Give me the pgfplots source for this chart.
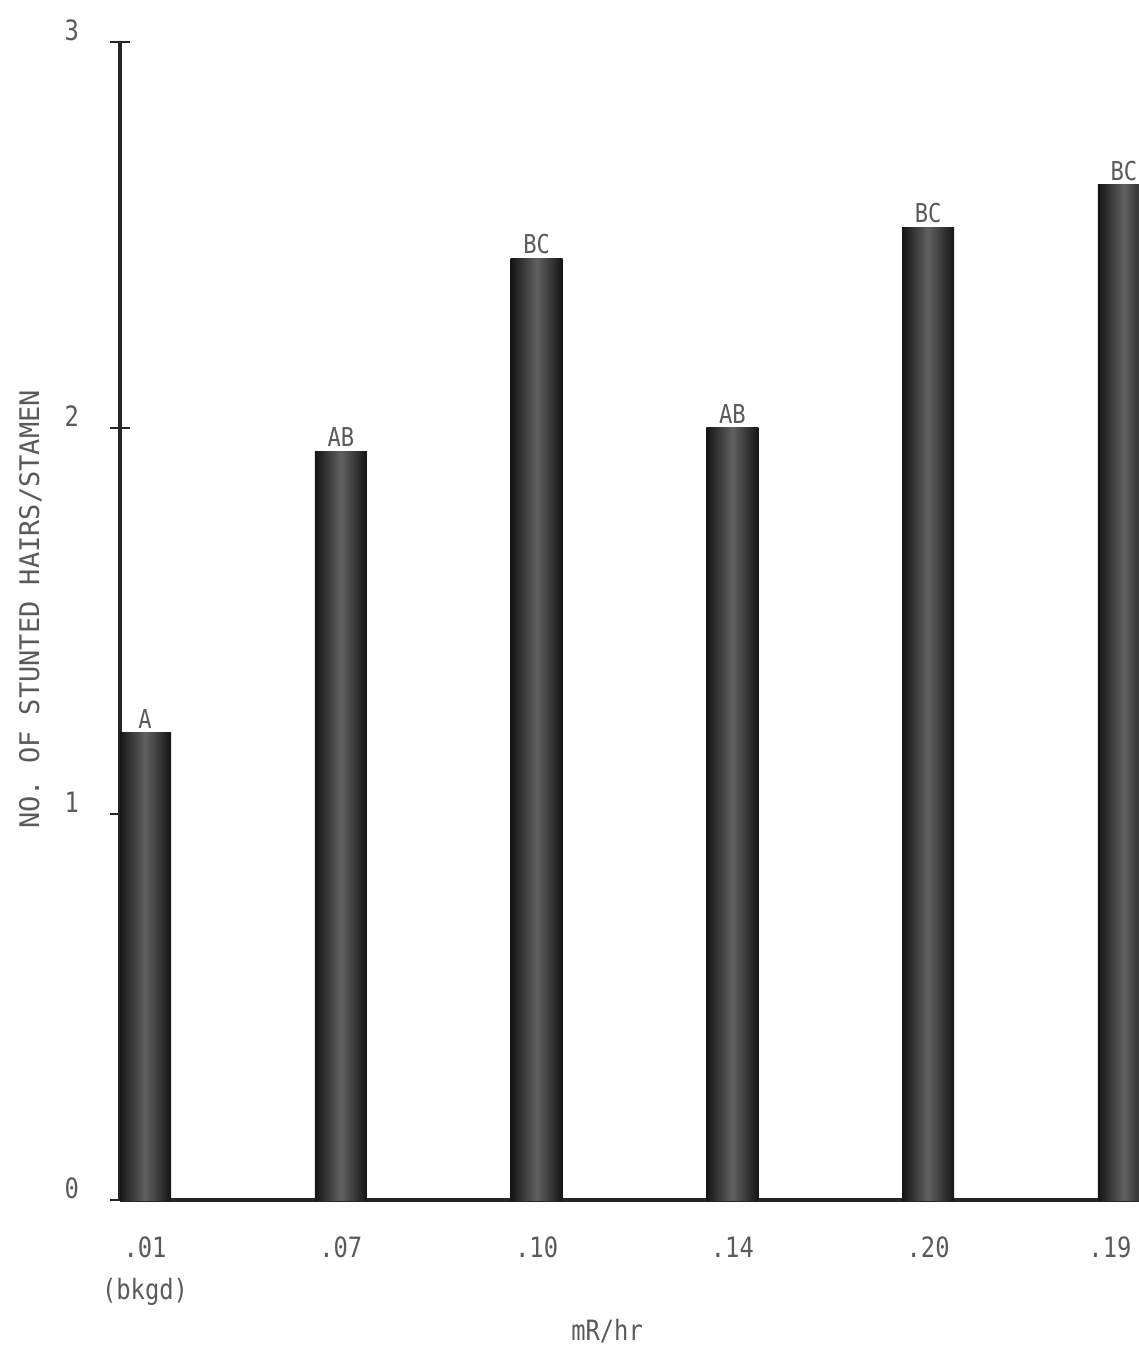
\documentclass[border=0pt]{standalone}
\usepackage{fontspec}
\setmainfont{DejaVu Sans Mono}
\newfontfamily\cond[FakeStretch=0.85]{DejaVu Sans Mono}
\usepackage{pgfplots}
\pgfplotsset{compat=1.18}
\definecolor{txt}{HTML}{5A5A5A}
\begin{document}
\begin{tikzpicture}
\useasboundingbox (-60pt,-75pt) rectangle (509.5pt,600pt);
\begin{axis}[
  at={(0,0)}, anchor=south west,
  scale only axis, width=509.5pt, height=579pt,
  xmin=-0.128, xmax=5.077, ymin=0, ymax=3,
  axis lines*=left,
  axis line style={line width=1.6pt, black!85},
  xtick={0,1,2,3,4,5},
  xticklabels={{.01\\[2pt](bkgd)},.07,.10,.14,.20,{.19\hspace*{14pt}}},
  xtick style={draw=none},
  xticklabel style={align=center, font=\cond\fontsize{14}{19}\selectfont, text=txt, yshift=-10pt},
  ytick={0,1,2,3},
  yticklabels={0,1,2,3},
  tick align=center,
  major tick length=10pt,
  ytick style={line width=1.4pt, black!85},
  yticklabel style={font=\cond\fontsize{14}{16}\selectfont, text=txt, xshift=-12pt, yshift=6pt},
  xlabel={mR/hr},
  xlabel style={at={(axis description cs:0.478,0)}, anchor=north, yshift=-56pt, font=\cond\fontsize{14}{16}\selectfont, text=txt},
  ylabel={NO. OF STUNTED HAIRS/STAMEN},
  ylabel style={at={(axis description cs:-0.088,0.51)}, anchor=center, font=\fontsize{13.5}{15}\selectfont, text=txt},
  nodes near coords,
  point meta=explicit symbolic,
  every node near coord/.append style={font=\cond\fontsize{13}{15}\selectfont, text=txt, inner sep=2pt},
  clip=true,
  barstyle/.style={ybar, bar width=26pt, bar shift=0pt, draw=none, left color=black!92, right color=black!92, middle color=black!62},
]
\addplot[barstyle] coordinates {(0,1.21)[A]};
\addplot[barstyle] coordinates {(1,1.94)[AB]};
\addplot[barstyle] coordinates {(2,2.44)[BC]};
\addplot[barstyle] coordinates {(3,2.00)[AB]};
\addplot[barstyle] coordinates {(4,2.52)[BC]};
\addplot[barstyle] coordinates {(5,2.63)[BC]};
\end{axis}
\end{tikzpicture}
\end{document}
